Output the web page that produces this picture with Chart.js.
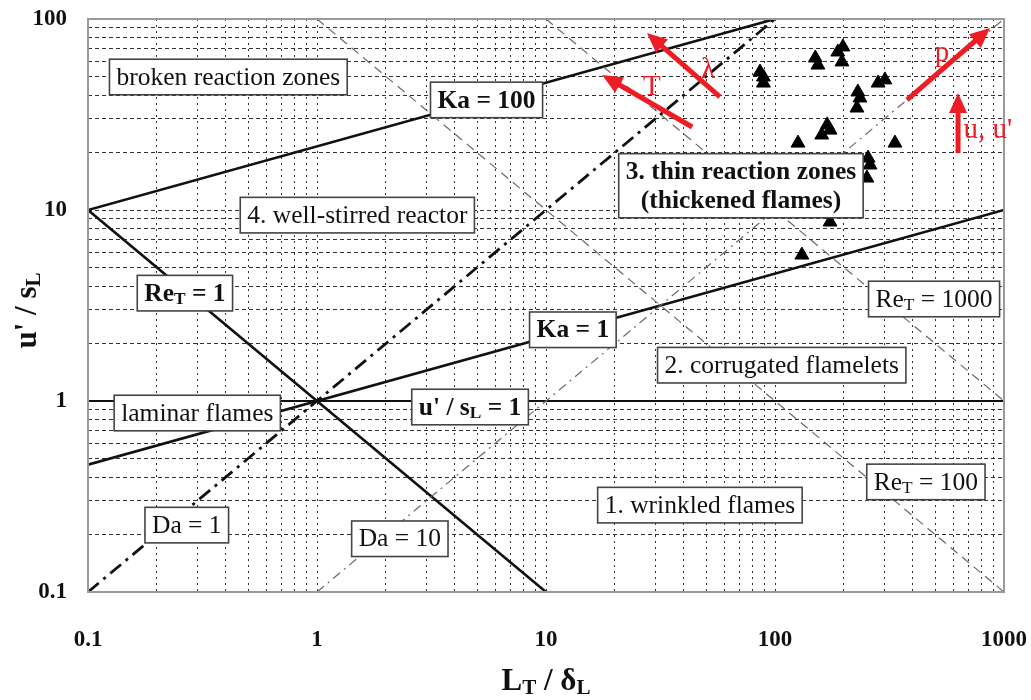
<!DOCTYPE html>
<html>
<head>
<meta charset="utf-8">
<script src="https://cdn.jsdelivr.net/npm/chart.js@4/dist/chart.umd.min.js"></script>
<style>
  body { margin: 0; background: #fff; }
  #wrap { width: 1031px; height: 700px; }
</style>
</head>
<body>
<div id="wrap"><canvas id="chart" width="1031" height="700"></canvas></div>
<script>
// axis ticks
const xTicks = [0.1, 1, 10, 100, 1000];
const yTicks = [0.1, 1, 10, 100];

// regime boundaries (end points, L_T/delta_L vs u'/s_L)
const ka100X = [0.1, 100];  const ka100Y = [10, 100];
const ka1X = [0.1, 1000];   const ka1Y = [0.464, 10];
const re1X = [0.1, 10];     const re1Y = [10, 0.1];
const re100X = [1, 1000];   const re100Y = [100, 0.1];
const re1000X = [10, 1000]; const re1000Y = [100, 1];
const da1X = [0.1, 100];    const da1Y = [0.1, 100];
const da10X = [1, 1000];    const da10Y = [0.1, 100];
const unityX = [0.1, 1000]; const unityY = [1, 1];

// measured flames (triangles)
const flameL = [86, 89, 89, 150, 154, 188, 198, 196, 230, 235, 228, 282, 302,
  169, 174, 160, 126, 334, 255, 260, 252, 174, 131];
const flameU = [52.8, 49.7, 46.2, 62.5, 57.4, 67.2, 71.4, 59.6, 41.5, 38.6, 34.2, 46.2, 48.0,
  27.9, 26.2, 24.7, 22.4, 22.4, 18.7, 17.2, 14.7, 8.65, 5.81];

// boxed labels: [L, u, lines, bold]
const labels = [
  [0.41, 49.7, [[['broken reaction zones']]], false],
  [5.5, 37.7, [[['Ka = 100']]], true],
  [1.5, 9.4, [[['4. well-stirred reactor']]], false],
  [0.265, 3.67, [[['Re'], ['T', 1], [' = 1']]], true],
  [0.30, 0.865, [[['laminar flames']]], false],
  [4.66, 0.93, [[["u' / s"], ['L', 1], [' = 1']]], true],
  [0.27, 0.224, [[['Da = 1']]], false],
  [2.3, 0.19, [[['Da = 10']]], false],
  [13.1, 2.36, [[['Ka = 1']]], true],
  [107, 1.54, [[['2. corrugated flamelets']]], false],
  [456, 0.377, [[['Re'], ['T', 1], [' = 100']]], false],
  [47, 0.285, [[['1. wrinkled flames']]], false],
  [495, 3.42, [[['Re'], ['T', 1], [' = 1000']]], false],
  [71, 13.4, [[['3. thin reaction zones']], [['(thickened flames)']]], true]
];

// red trend arrows: [fromL, fromU, toL, toU, text, textL, textU]
const arrows = [
  [377, 37.7, 869, 89.7, 'p', 536, 66.4],
  [630, 19.9, 630, 41, "u, u'", 851, 26.2],
  [57.5, 39.1, 27.6, 84.5, 'λ', 51, 54.1],
  [43.5, 27.2, 17.6, 50.9, 'T', 29, 44]
];

const SERIF = '"Liberation Serif", "DejaVu Serif", serif';

const gridVals = () => {
  const out = [];
  for (let e = -1; e <= 2; e++) {
    for (let m = 1; m <= 9; m++) out.push(Number((m * Math.pow(10, e)).toPrecision(3)));
  }
  out.push(1000);
  return out;
};

const pts = (xs, ys) => xs.map((x, i) => ({ x: x, y: ys[i] }));

const line = (xs, ys, color, width, dash) => ({
  type: 'line',
  data: pts(xs, ys),
  borderColor: color,
  borderWidth: width,
  borderDash: dash,
  pointRadius: 0,
  fill: false,
  tension: 0
});

const richWidth = (ctx, parts, size, bold) => {
  let t = 0;
  parts.forEach((p) => {
    ctx.font = (bold ? 'bold ' : '') + (p[1] ? size * 0.68 : size) + 'px ' + SERIF;
    t += ctx.measureText(p[0]).width;
  });
  return t;
};

const drawRich = (ctx, parts, x, y, size, bold) => {
  let cx = x - richWidth(ctx, parts, size, bold) / 2;
  parts.forEach((p) => {
    ctx.font = (bold ? 'bold ' : '') + (p[1] ? size * 0.68 : size) + 'px ' + SERIF;
    ctx.fillText(p[0], cx, p[1] ? y + size * 0.22 : y);
    cx += ctx.measureText(p[0]).width;
  });
};

const overlay = {
  id: 'overlay',
  beforeDraw(chart) {
    const ctx = chart.ctx;
    ctx.save();
    ctx.fillStyle = '#fff';
    ctx.fillRect(0, 0, chart.width, chart.height);
    ctx.restore();
  },
  afterDatasetsDraw(chart) {
    const ctx = chart.ctx;
    const sx = chart.scales.x, sy = chart.scales.y;
    const a = chart.chartArea;
    ctx.save();
    // frame
    ctx.strokeStyle = '#9a9a9a';
    ctx.lineWidth = 2;
    ctx.strokeRect(a.left, a.top, a.right - a.left, a.bottom - a.top);

    // boxed labels
    const size = 25.5;
    ctx.textBaseline = 'middle';
    labels.forEach(([lx, ly, lines, bold]) => {
      const cx = sx.getPixelForValue(lx);
      const cy = sy.getPixelForValue(ly);
      const maxW = Math.max(...lines.map((parts) => richWidth(ctx, parts, size, bold)));
      const lh = size * 1.12;
      const bw = maxW + 14;
      const bh = lines.length * lh + 7;
      ctx.fillStyle = '#fff';
      ctx.fillRect(cx - bw / 2, cy - bh / 2, bw, bh);
      ctx.strokeStyle = '#444';
      ctx.lineWidth = 1.6;
      ctx.strokeRect(cx - bw / 2, cy - bh / 2, bw, bh);
      ctx.fillStyle = '#111';
      lines.forEach((parts, i) => {
        const ty = cy - (lines.length - 1) * lh / 2 + i * lh + 1;
        drawRich(ctx, parts, cx, ty, size, bold);
      });
    });

    // red arrows
    ctx.strokeStyle = '#ee1c25';
    ctx.fillStyle = '#ee1c25';
    arrows.forEach(([fx, fy, tx, ty, txt, lx, ly]) => {
      const x1 = sx.getPixelForValue(fx), y1 = sy.getPixelForValue(fy);
      const x2 = sx.getPixelForValue(tx), y2 = sy.getPixelForValue(ty);
      const ang = Math.atan2(y2 - y1, x2 - x1);
      const hl = 20, hw = 9;
      ctx.lineWidth = 5;
      ctx.beginPath();
      ctx.moveTo(x1, y1);
      ctx.lineTo(x2 - Math.cos(ang) * hl * 0.8, y2 - Math.sin(ang) * hl * 0.8);
      ctx.stroke();
      ctx.beginPath();
      ctx.moveTo(x2, y2);
      ctx.lineTo(x2 - Math.cos(ang) * hl - Math.sin(ang) * hw, y2 - Math.sin(ang) * hl + Math.cos(ang) * hw);
      ctx.lineTo(x2 - Math.cos(ang) * hl + Math.sin(ang) * hw, y2 - Math.sin(ang) * hl - Math.cos(ang) * hw);
      ctx.closePath();
      ctx.fill();
      ctx.font = '29px ' + SERIF;
      ctx.textAlign = 'center';
      ctx.fillText(txt, sx.getPixelForValue(lx), sy.getPixelForValue(ly));
    });
    ctx.textAlign = 'left';

    // axis titles
    ctx.fillStyle = '#111';
    drawRich(ctx, [['L'], ['T', 1], [' / δ'], ['L', 1]], (a.left + a.right) / 2, 682, 31, true);
    ctx.translate(28, (a.top + a.bottom) / 2 + 5);
    ctx.rotate(-Math.PI / 2);
    drawRich(ctx, [["u' / s"], ['L', 1]], 0, 0, 31, true);
    ctx.restore();
  }
};

const tickFont = { family: SERIF, size: 23, weight: 'bold' };
const isMajor = (v, list) => list.some((t) => Math.abs(v - t) < t * 1e-6);

new Chart(document.getElementById('chart').getContext('2d'), {
  type: 'scatter',
  data: {
    datasets: [
      line(re100X, re100Y, '#6a6a6a', 1.2, [9, 6]),
      line(re1000X, re1000Y, '#6a6a6a', 1.2, [9, 6]),
      line(da10X, da10Y, '#6a6a6a', 1.2, [9, 5, 2, 5]),
      line(da1X, da1Y, '#111', 2.8, [14, 6, 3, 6]),
      line(ka100X, ka100Y, '#111', 2.6, []),
      line(ka1X, ka1Y, '#111', 2.6, []),
      line(re1X, re1Y, '#111', 2.6, []),
      line(unityX, unityY, '#111', 2.2, []),
      {
        type: 'scatter',
        data: pts(flameL, flameU),
        pointStyle: 'triangle',
        pointRadius: 8,
        backgroundColor: '#000',
        borderColor: '#000',
        borderWidth: 1
      }
    ]
  },
  options: {
    responsive: false,
    animation: false,
    layout: { padding: { left: 0, top: 19, right: 27, bottom: 0 } },
    plugins: { legend: { display: false }, tooltip: { enabled: false } },
    scales: {
      x: {
        type: 'logarithmic',
        min: 0.1,
        max: 1000,
        afterBuildTicks: (s) => { s.ticks = gridVals().map((v) => ({ value: v })); },
        afterFit: (s) => { s.height = 108; },
        grid: { color: '#333', lineWidth: 1, drawTicks: true, tickLength: 34, tickColor: 'rgba(0,0,0,0)' },
        border: { display: false, dash: [2, 4] },
        ticks: {
          autoSkip: false, maxRotation: 0, padding: 0, color: '#111', font: tickFont,
          callback: (v) => (isMajor(v, xTicks) ? String(v) : '')
        }
      },
      y: {
        type: 'logarithmic',
        min: 0.1,
        max: 100,
        afterBuildTicks: (s) => { s.ticks = gridVals().filter((v) => v <= 100).map((v) => ({ value: v })); },
        afterFit: (s) => { s.width = 88; },
        grid: { color: '#333', lineWidth: 1, drawTicks: true, tickLength: 21, tickColor: 'rgba(0,0,0,0)' },
        border: { display: false, dash: [4, 3] },
        ticks: {
          autoSkip: false, padding: 0, color: '#111', font: tickFont,
          callback: (v) => (isMajor(v, yTicks) ? String(v) : '')
        }
      }
    }
  },
  plugins: [overlay]
});
</script>
</body>
</html>
